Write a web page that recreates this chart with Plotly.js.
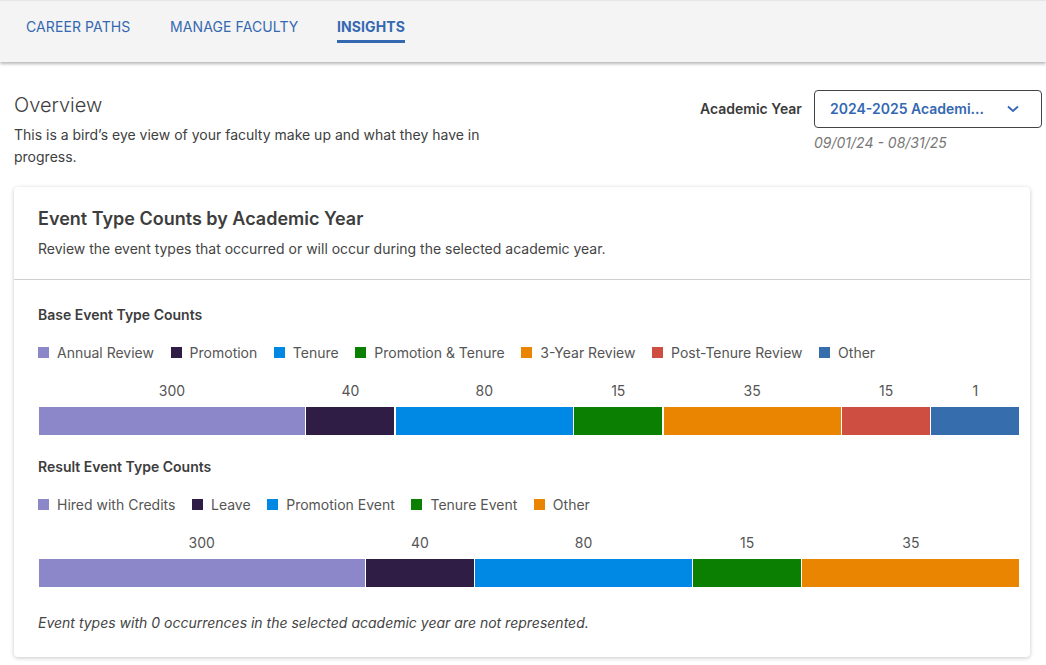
<!DOCTYPE html>
<html>
<head>
<meta charset="utf-8">
<script src="https://cdn.plot.ly/plotly-3.0.1.min.js"></script>
<style>
  html, body { margin: 0; padding: 0; }
  body { width: 1046px; height: 665px; overflow: hidden; background: #fff; font-family: Inter, "Noto Sans", sans-serif; color: #333; position: relative; }
  .nav { position: absolute; left: 0; top: 0; width: 1046px; height: 62px; background: #f4f4f4; box-shadow: 0 2px 3px rgba(0,0,0,0.28); border-top: 1px solid #e6e6e6; box-sizing: border-box; }
  .tab { position: absolute; top: 17px; font-size: 14px; color: #3468b1; font-weight: 400; letter-spacing: 0.1px; }
  .tab.active { font-weight: 700; }
  .tab.active::after { content: ""; position: absolute; left: 0; right: 0; top: 22px; height: 2.5px; background: #3468b1; }
  .abs { position: absolute; white-space: nowrap; }
  .card { position: absolute; left: 14px; top: 187px; width: 1016px; height: 470px; background: #fff; border-radius: 4px; box-shadow: 0 1px 4px rgba(0,0,0,0.22); }
  .sep { position: absolute; left: 0; top: 92px; width: 100%; height: 1px; background: #cfcfcf; }
  .legend { position: absolute; left: 38px; display: flex; align-items: center; font-size: 14px; color: #555; white-space: nowrap; }
  .legend .item { display: flex; align-items: center; margin-right: 16.6px; }
  .legend .sw { width: 11px; height: 11px; margin-right: 8px; }
  .chart { position: absolute; left: 38px; width: 982px; height: 58px; }
</style>
</head>
<body>
<script>
// ---- data ----
const baseCategories = ["Annual Review", "Promotion", "Tenure", "Promotion & Tenure", "3-Year Review", "Post-Tenure Review", "Other"];
const baseCounts = [300, 40, 80, 15, 35, 15, 1];
const baseSegmentShare = [3, 1, 2, 1, 2, 1, 1];   // relative segment widths as drawn
const baseColors = ["#8b87c8", "#2f1d46", "#0089e4", "#0a7f02", "#e98500", "#ce4e41", "#366dad"];

const resultCategories = ["Hired with Credits", "Leave", "Promotion Event", "Tenure Event", "Other"];
const resultCounts = [300, 40, 80, 15, 35];
const resultSegmentShare = [3, 1, 2, 1, 2];     // relative segment widths as drawn
const resultColors = ["#8b87c8", "#2f1d46", "#0089e4", "#0a7f02", "#e98500"];
</script>

<div class="nav">
  <div class="tab" style="left:26px">CAREER PATHS</div>
  <div class="tab" style="left:170px">MANAGE FACULTY</div>
  <div class="tab active" style="left:337px">INSIGHTS</div>
</div>

<div class="abs" style="left:14px; top:93px; font-size:20px; color:#3d3d3d; font-weight:300;">Overview</div>
<div class="abs" style="left:14px; top:124px; font-size:14px; line-height:22px; color:#404040; white-space:normal; width:490px;">This is a bird’s eye view of your faculty make up and what they have in progress.</div>

<div class="abs" style="left:700px; top:100px; font-size:14px; font-weight:600; color:#3a3a3a;">Academic Year</div>
<div class="abs" style="left:814px; top:90px; width:228px; height:38px; box-sizing:border-box; border:1px solid #444; border-radius:4px;">
  <div class="abs" style="left:15px; top:9px; font-size:14px; font-weight:600; color:#3468b1;">2024-2025 Academi...</div>
  <svg class="abs" style="left:192px; top:14px;" width="12" height="8" viewBox="0 0 12 8"><path d="M1 1.5 L6 6 L11 1.5" fill="none" stroke="#3468b1" stroke-width="1.8"/></svg>
</div>
<div class="abs" style="left:814px; top:134px; font-size:14px; font-style:italic; color:#777;">09/01/24 - 08/31/25</div>

<div class="card">
  <div class="abs" style="left:24px; top:21px; font-size:18px; font-weight:600; color:#3d3d3d;">Event Type Counts by Academic Year</div>
  <div class="abs" style="left:24px; top:53px; font-size:14px; color:#444;">Review the event types that occurred or will occur during the selected academic year.</div>
  <div class="sep"></div>
  <div class="abs" style="left:24px; top:119px; font-size:14px; font-weight:600; color:#3d3d3d;">Base Event Type Counts</div>
  <div class="abs" style="left:24px; top:271px; font-size:14px; font-weight:600; color:#3d3d3d;">Result Event Type Counts</div>
  <div class="abs" style="left:24px; top:427px; font-size:14px; font-style:italic; color:#444;">Event types with 0 occurrences in the selected academic year are not represented.</div>
</div>

<div class="legend" id="legBase" style="top:344px;"></div>
<div class="chart" id="chartBase" style="top:378px;"></div>
<div class="legend" id="legResult" style="top:496px;"></div>
<div class="chart" id="chartResult" style="top:530px;"></div>

<script>
function buildLegend(id, names, colors) {
  const el = document.getElementById(id);
  names.forEach((n, i) => {
    const it = document.createElement('div');
    it.className = 'item';
    const sw = document.createElement('div');
    sw.className = 'sw';
    sw.style.background = colors[i];
    const tx = document.createElement('span');
    tx.textContent = n;
    it.appendChild(sw); it.appendChild(tx);
    el.appendChild(it);
  });
}

function buildChart(id, names, counts, shares, colors) {
  const traces = names.map((n, i) => ({
    type: 'bar', orientation: 'h', name: n,
    x: [shares[i]], y: [0], width: [1],
    marker: { color: colors[i], line: { color: '#ffffff', width: 1.2 } },
    hoverinfo: 'none', showlegend: false
  }));
  const mids = [];
  let acc = 0;
  shares.forEach(s => { mids.push(acc + s / 2); acc += s; });
  traces.push({
    type: 'scatter', mode: 'text', x: mids, y: mids.map(() => 0.94),
    text: counts.map(String), textposition: 'middle center',
    textfont: { family: 'Inter, sans-serif', size: 14, color: '#555' },
    hoverinfo: 'none', showlegend: false, cliponaxis: false
  });
  const layout = {
    barmode: 'stack', bargap: 0,
    width: 982, height: 58,
    margin: { l: 0, r: 0, t: 0, b: 0 },
    paper_bgcolor: 'rgba(0,0,0,0)', plot_bgcolor: 'rgba(0,0,0,0)',
    xaxis: { range: [0, acc], visible: false, fixedrange: true },
    yaxis: { range: [-0.5, 1.4333], visible: false, fixedrange: true },
    showlegend: false
  };
  Plotly.newPlot(id, traces, layout, { staticPlot: true, displayModeBar: false });
}

buildLegend('legBase', baseCategories, baseColors);
buildLegend('legResult', resultCategories, resultColors);
buildChart('chartBase', baseCategories, baseCounts, baseSegmentShare, baseColors);
buildChart('chartResult', resultCategories, resultCounts, resultSegmentShare, resultColors);
</script>
</body>
</html>
